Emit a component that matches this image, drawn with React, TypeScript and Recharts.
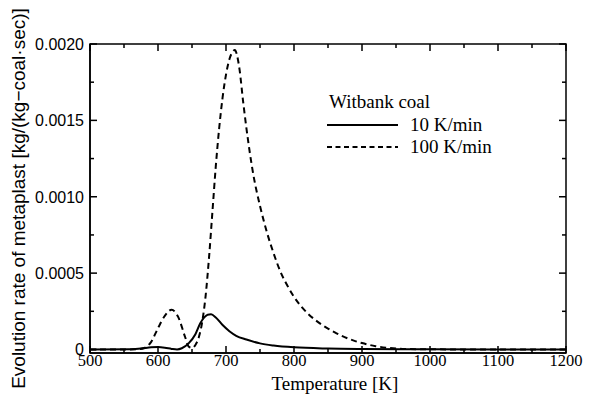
import React from 'react';
import { LineChart, Line, XAxis, YAxis, Legend, ReferenceArea } from 'recharts';

const temps10 = [500, 560, 575, 590, 600, 610, 620, 628, 635, 645, 655, 662, 668, 673, 678, 685, 695, 705, 715, 730, 750, 770, 800, 850, 900, 1000, 1200];
const rate10 = [0, 0.000002, 0.000006, 0.000014, 0.000016, 0.000012, 0.000004, 0.0, 0.000008, 0.00004, 0.0001, 0.00017, 0.00021, 0.000228, 0.00023, 0.00021, 0.00016, 0.00012, 0.00009, 0.000065, 0.00004, 0.000026, 0.000014, 0.000006, 0.000003, 0.000001, 0];

const temps100 = [500, 550, 570, 580, 590, 600, 610, 620, 630, 640, 645, 650, 655, 660, 665, 670, 675, 680, 685, 690, 695, 700, 705, 710, 713, 716, 720, 725, 730, 740, 750, 760, 770, 780, 790, 800, 810, 820, 830, 840, 850, 860, 870, 880, 890, 900, 920, 940, 960, 1000, 1200];
const rate100 = [0, 0, 0.000002, 0.00001, 0.00005, 0.00014, 0.00022, 0.00026, 0.00021, 0.00008, 0.00002, 0.00001, 0.00003, 0.00008, 0.00018, 0.00035, 0.0006, 0.0009, 0.0012, 0.00145, 0.00165, 0.0018, 0.0019, 0.00195, 0.00196, 0.00193, 0.00183, 0.00163, 0.00145, 0.00115, 0.00094, 0.00077, 0.00063, 0.00051, 0.00042, 0.000345, 0.000285, 0.000237, 0.000198, 0.000165, 0.000137, 0.000112, 0.00009, 0.000071, 0.000055, 0.000042, 0.000022, 0.00001, 0.000004, 0.000001, 0];

const xTicks = [500, 550, 600, 650, 700, 750, 800, 850, 900, 950, 1000, 1050, 1100, 1150, 1200];
const yTicks = [0, 0.00025, 0.0005, 0.00075, 0.001, 0.00125, 0.0015, 0.00175, 0.002];
const yTickLabels = ['0', '', '0.0005', '', '0.0010', '', '0.0015', '', '0.0020'];

const seriesNames = ['10 K/min', '100 K/min'];
const legendTitle = 'Witbank coal';
const xTitle = 'Temperature [K]';
const yTitle = 'Evolution rate of metaplast [kg/(kg\u2212coal\u00b7sec)]';

const X_DOMAIN = [500, 1200];
const Y_DOMAIN = [-0.0000229, 0.002];

const data10 = temps10.map((t, i) => ({ T: t, v: rate10[i] }));
const data100 = temps100.map((t, i) => ({ T: t, v: rate100[i] }));

const CHART_W = 589;
const CHART_H = 396;
const MARGIN = { top: 44, right: 23, left: 0, bottom: 0 };
const PLOT_TOP = MARGIN.top;
const PLOT_RIGHT = CHART_W - MARGIN.right;

const SERIF = '"Liberation Serif", "Times New Roman", serif';
const SANS = '"Liberation Sans", Arial, sans-serif';
const INK = 'black';

const isMajorX = (v: number) => v % 100 === 0;
const yIndex = (v: number) => yTicks.findIndex((t) => Math.abs(t - v) < 1e-9);

const BottomTick = (props: any) => {
  const { x, y, payload } = props;
  const major = isMajorX(payload.value);
  const len = major ? 7 : 4;
  return (
    <g>
      <rect x={x - 0.75} y={y - len} width={1.5} height={len} fill={INK} />
      <rect x={x - 0.75} y={PLOT_TOP} width={1.5} height={len} fill={INK} />
      {major && (
        <text x={x} y={y + 13} textAnchor="middle" fontFamily={SERIF} fontSize={16.5} fill={INK}>
          {payload.value}
        </text>
      )}
    </g>
  );
};

const LeftTick = (props: any) => {
  const { x, y, payload } = props;
  const i = yIndex(payload.value);
  const major = i % 2 === 0;
  const len = major ? 7 : 4;
  return (
    <g>
      <rect x={x} y={y - 0.75} width={len} height={1.5} fill={INK} />
      <rect x={PLOT_RIGHT - len} y={y - 0.75} width={len} height={1.5} fill={INK} />
      {major && (
        <text x={x - 6} y={y} dy="0.36em" textAnchor="end" fontFamily={SANS} fontSize={16} fill={INK}>
          {yTickLabels[i]}
        </text>
      )}
    </g>
  );
};

const LegendContent = () => (
  <div style={{ fontFamily: SERIF, fontSize: 19, lineHeight: '22.5px', color: INK, whiteSpace: 'nowrap' }}>
    <div style={{ paddingLeft: 2 }}>{legendTitle}</div>
    {seriesNames.map((name, i) => (
      <div key={name} style={{ display: 'flex', alignItems: 'center', height: 22.5 }}>
        <svg width={72} height={22} style={{ display: 'block' }}>
          <line x1={0} x2={71} y1={11} y2={11} stroke={INK} strokeWidth={i === 0 ? 2 : 1.8} strokeDasharray={i === 0 ? undefined : '5 3.5'} />
        </svg>
        <span style={{ marginLeft: 11 }}>{name}</span>
      </div>
    ))}
  </div>
);

export default function App() {
  return (
    <div style={{ position: 'absolute', left: 0, top: 0 }}>
      <LineChart width={CHART_W} height={CHART_H} margin={MARGIN}>
        <XAxis
          xAxisId="b"
          dataKey="T"
          type="number"
          domain={X_DOMAIN}
          ticks={xTicks}
          interval={0}
          allowDataOverflow
          height={43}
          tickSize={0}
          tickMargin={0}
          axisLine={{ stroke: INK, strokeWidth: 1.5 }}
          tickLine={false}
          tick={<BottomTick />}
          label={(p: any) => {
            const vb = p.viewBox;
            return (
              <text x={vb.x + vb.width / 2 + 7} y={vb.y + 37} textAnchor="middle" fontFamily={SERIF} fontSize={19} fill={INK}>
                {xTitle}
              </text>
            );
          }}
        />
        <YAxis
          yAxisId="l"
          type="number"
          domain={Y_DOMAIN}
          ticks={yTicks}
          interval={0}
          allowDataOverflow
          width={90}
          tickSize={0}
          tickMargin={0}
          axisLine={{ stroke: INK, strokeWidth: 1.5 }}
          tickLine={false}
          tick={<LeftTick />}
          label={(p: any) => {
            const vb = p.viewBox;
            const cx = 18;
            const cy = vb.y + vb.height / 2;
            return (
              <text x={cx} y={cy} transform={`rotate(-90 ${cx} ${cy})`} dy="0.35em" textAnchor="middle" fontFamily={SANS} fontSize={19} fill={INK}>
                {yTitle}
              </text>
            );
          }}
        />
        <ReferenceArea
          xAxisId="b"
          yAxisId="l"
          x1={X_DOMAIN[0]}
          x2={X_DOMAIN[1]}
          y1={Y_DOMAIN[0]}
          y2={Y_DOMAIN[1]}
          fill="white"
          fillOpacity={0}
          stroke={INK}
          strokeWidth={1.5}
          ifOverflow="visible"
        />
        <Legend
          layout="horizontal"
          verticalAlign="middle"
          align="center"
          content={<LegendContent />}
          wrapperStyle={{ position: 'absolute', left: 327, top: 91, width: 'auto', height: 'auto' }}
        />
        <Line
          xAxisId="b"
          yAxisId="l"
          data={data10}
          dataKey="v"
          name={seriesNames[0]}
          type="monotone"
          stroke={INK}
          strokeWidth={2}
          dot={false}
          isAnimationActive={false}
        />
        <Line
          xAxisId="b"
          yAxisId="l"
          data={data100}
          dataKey="v"
          name={seriesNames[1]}
          type="monotone"
          stroke={INK}
          strokeWidth={2}
          strokeDasharray="6 4"
          dot={false}
          isAnimationActive={false}
        />
      </LineChart>
    </div>
  );
}
